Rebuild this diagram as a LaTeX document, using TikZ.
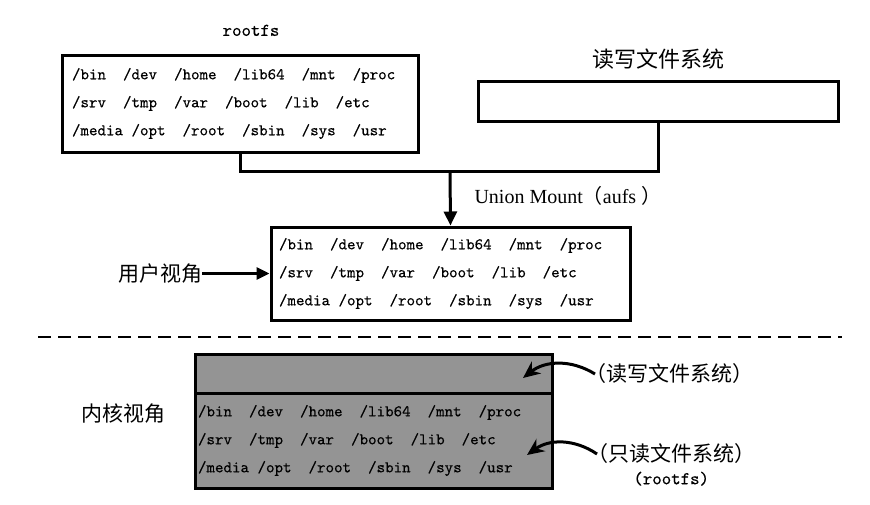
\documentclass[tikz,border=0pt]{standalone}
\usepackage{fontspec}
\setmainfont{Liberation Serif}
\newfontfamily\cjk{Noto Sans CJK SC}
\newfontfamily\dirfont[FakeBold=0.4]{lmmono10-regular.otf}
\usetikzlibrary{positioning,arrows.meta}
\newcommand{\dgap}{\hspace*{1.05em}}
\newcommand{\rootdirs}{/bin\dgap/dev\dgap/home\dgap/lib64\dgap/mnt\dgap/proc\\/srv\dgap/tmp\dgap/var\dgap/boot\dgap/lib\dgap/etc\\/media\hspace*{0.525em}/opt\dgap/root\dgap/sbin\dgap/sys\dgap/usr}

\begin{document}
\begin{tikzpicture}[x=1pt,y=-1pt,
    fs/.style = {draw, line width=3pt, align=left, inner ysep=0pt, font=\dirfont\fontsize{16.2}{28}\selectfont},
    plain/.style = {draw, line width=3pt},
    lbl/.style = {inner sep=0pt, font=\cjk\fontsize{21}{21}\selectfont},
    big/.style = {line width=3pt, -{Triangle[length=14pt,width=13pt]}},
    curvy/.style = {line width=3pt, -{Stealth[length=17pt,width=15pt]}}]
    \useasboundingbox (0,0) rectangle (870,504);
    % upper half: the two layers and the merged view
    \node[fs, text width=336pt, inner xsep=10pt, minimum height=97pt] (rootfs) at (240,103.5) {\rootdirs};
    \node[font=\dirfont\fontsize{18}{18}\selectfont, above=14pt of rootfs, xshift=11pt] (rootfslbl) {rootfs};
    \node[plain, minimum width=360pt, minimum height=40pt] (rw) at (658,101) {};
    \node[lbl, font=\cjk\fontsize{22}{22}\selectfont, above=10pt of rw] (rwlbl) {读写文件系统};
    \node[fs, text width=343pt, inner xsep=8pt, minimum height=93pt] (user) at (450.5,273.5) {\rootdirs};
    \coordinate (join) at (450,171);
    \draw[line width=3pt] (rootfs.south) |- (join) -| (rw.south);
    \path[big] (join) edge (user.north);
    \node[anchor=west, font=\fontsize{20}{20}\selectfont] (um) at (471,196) {Union Mount{\cjk （}aufs\hspace{5pt}{\cjk ）}};
    \node[lbl] (uv) at (160,273.5) {用户视角};
    \path[line width=3pt, -{Triangle[length=13pt,width=12pt]}] (uv) edge (user);
    % separator
    \draw[line width=2pt, dash pattern=on 13pt off 7pt] (38,337) -- (842,337);
    % lower half: kernel view
    \node[plain, fill=black!42, minimum width=357pt, minimum height=39pt] (krw) at (373.5,373.5) {};
    \node[fs, fill=black!42, text width=351pt, inner xsep=3pt, minimum height=95pt] (kro) at (373.5,440.5) {\rootdirs};
    \node[lbl] (kv) at (123.5,414) {内核视角};
    \node[lbl, anchor=west] (rwnote) at (585,374) {（读写文件系统）};
    \node[lbl, anchor=west] (ronote) at (587,454) {（只读文件系统）};
    \node[font=\dirfont\fontsize{18}{18}\selectfont, below=4pt of ronote] (rootfsnote) {(rootfs)};
    \coordinate (rwtip) at (523,378);
    \coordinate (rotip) at (527,455);
    \path[curvy]
        ([xshift=10pt]rwnote.west) edge[bend right=35] (rwtip)
        ([xshift=10pt]ronote.west) edge[bend right=35] (rotip);
\end{tikzpicture}
\end{document}
